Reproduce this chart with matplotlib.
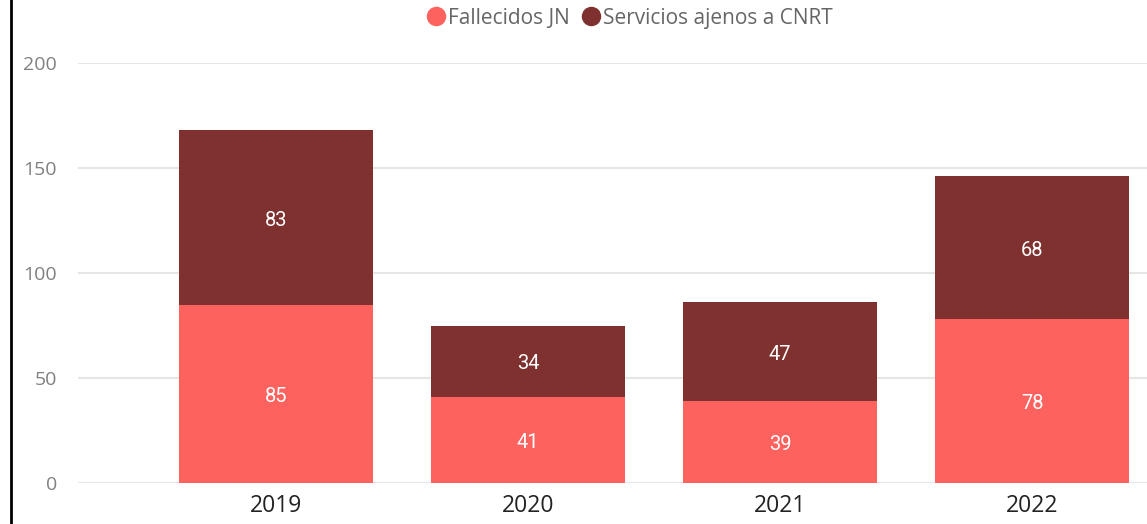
import matplotlib
matplotlib.use("Agg")
import matplotlib.pyplot as plt
from matplotlib.lines import Line2D

years = ["2019", "2020", "2021", "2022"]
fallecidos = [85, 41, 39, 78]
servicios = [83, 34, 47, 68]
series_names = ["Fallecidos JN", "Servicios ajenos a CNRT"]
colors = ["#FD625E", "#7F312F"]
yticks = [0, 50, 100, 150, 200]

W, H = 1147, 524
fig = plt.figure(figsize=(W / 100, H / 100), dpi=100)
ax = fig.add_axes([78 / W, (H - 483) / H, 1 - 78 / W, (483 - 63) / H])

x = list(range(len(years)))
bw = 194 / 252
ax.bar(x, fallecidos, width=bw, color=colors[0], zorder=3)
ax.bar(x, servicios, width=bw, bottom=fallecidos, color=colors[1], zorder=3)

for i in x:
    ax.annotate(str(fallecidos[i]), (i, fallecidos[i] / 2), xytext=(0, -2),
                textcoords="offset points", ha="center", va="center",
                color="white", fontsize=14.5, family="Roboto", zorder=4)
    ax.annotate(str(servicios[i]), (i, fallecidos[i] + servicios[i] / 2), xytext=(0, -2),
                textcoords="offset points", ha="center", va="center",
                color="white", fontsize=14.5, family="Roboto", zorder=4)

ax.set_xlim((78 - 276) / 252, (1147 - 276) / 252)
ax.set_ylim(0, 200)
ax.set_yticks(yticks)
ax.set_yticklabels([str(v) for v in yticks])
ax.set_xticks(x)
ax.set_xticklabels(years)
ax.tick_params(axis="y", length=0, pad=15, labelsize=14, labelcolor="#808080")
ax.tick_params(axis="x", length=0, pad=8, labelsize=16.5, labelcolor="#222222")
for lab in ax.get_xticklabels() + ax.get_yticklabels():
    lab.set_family("Open Sans")
ax.grid(axis="y", color="#e6e6e6", linewidth=1.5, zorder=0)
ax.set_axisbelow(True)
for s in ax.spines.values():
    s.set_visible(False)

handles = [Line2D([], [], marker="o", linestyle="none", markersize=13,
                  markerfacecolor=c, markeredgecolor=c) for c in colors]
leg = fig.legend(handles, series_names, loc="center", bbox_to_anchor=(629 / W, 1 - 18 / H),
                 ncol=2, frameon=False, handletextpad=0.1, columnspacing=0.5,
                 handlelength=1.0, prop={"family": "Open Sans", "size": 15})
for t in leg.get_texts():
    t.set_color("#666666")

fig.add_artist(Line2D([10.5 / W, 10.5 / W], [0, 1], color="black", linewidth=2,
                      transform=fig.transFigure))

fig.savefig("out.png", dpi=100)
